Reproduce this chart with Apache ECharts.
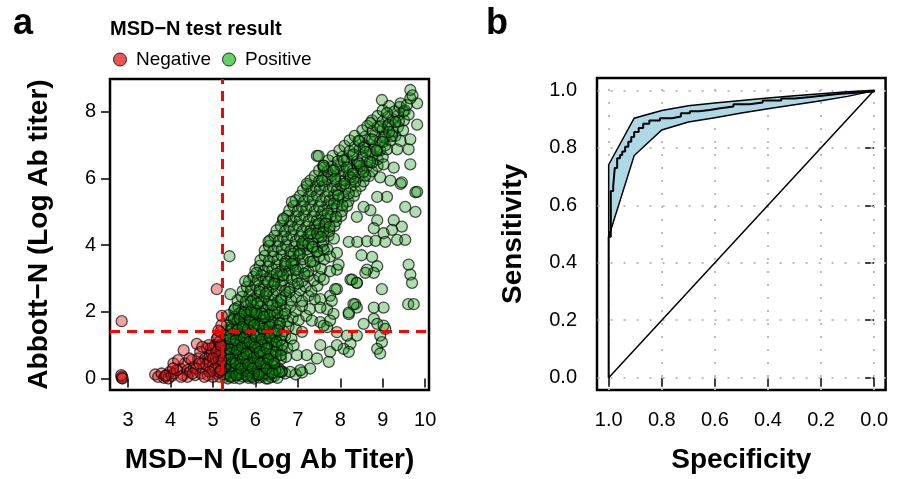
<!DOCTYPE html>
<html><head><meta charset="utf-8">
<script src="https://cdn.jsdelivr.net/npm/echarts@6/dist/echarts.min.js"></script>
<style>html,body{margin:0;padding:0;background:#fff}#c{width:920px;height:479px}</style>
</head><body><div id="c"></div>
<script>
// ---------- Panel a: MSD-N vs Abbott-N ----------
const negatives = [
[2.85,1.72],[2.85,0.02],[2.86,0.06],[2.84,0.1],[2.87,0.0],
[3.64,0.12],[3.71,0.05],[3.79,0.15],[3.85,0.02],[3.91,0.1],[3.95,0.0],[3.99,0.2],[4.03,0.08],[4.08,0.15],
[4.23,0.3],[4.3,0.1],[4.34,0.45],[4.4,0.25],[4.46,0.2],[4.5,0.55],[4.55,0.35],[4.58,0.1],[4.62,1.04],[4.65,0.6],
[4.7,0.8],[4.72,0.15],[4.75,0.45],[4.78,0.3],[4.82,0.6],[4.86,0.9],[4.88,0.1],[4.9,0.5],[4.93,0.7],[4.97,0.75],
[4.99,0.25],[5.01,0.4],[5.03,0.95],[5.05,1.0],[5.07,0.6],[5.09,1.19],[5.1,0.15],[5.12,0.85],[5.13,0.6],[5.14,0.35],
[5.15,1.1],[5.16,0.05],[5.17,1.39],[5.18,0.7],[5.19,0.45],[5.2,1.6],[5.09,2.68],[5.21,1.88],[5.13,1.44],[5.2,0.95],
[5.0,0.05],[4.85,0.4],[4.6,0.3],[4.4,0.05],[4.31,0.85],[4.07,0.45],[4.18,0.55],
[4.95,0.9],[5.05,0.3],[5.08,0.8],[5.15,0.2],[5.18,1.0],[5.12,1.25],[4.92,0.2],[4.8,0.05],[4.68,0.45],[4.52,0.15],
[4.45,0.6],[4.25,0.05],[4.15,0.25],[3.88,0.08],[4.06,0.3],[5.19,0.25],[5.2,0.55],[5.0,0.6],[4.9,1.0],[4.75,0.95]
];
const positives = [
// bottom strip
[5.28,0.05],[5.35,0.0],[5.42,0.08],[5.5,0.02],[5.57,0.1],[5.63,0.0],[5.7,0.06],[5.78,0.12],[5.84,0.02],[5.9,0.08],
[5.97,0.0],[6.04,0.1],[6.1,0.03],[6.18,0.07],[6.25,0.0],[6.31,0.12],[6.38,0.04],[6.45,0.08],[6.52,0.02],[6.3,0.0],
[5.95,0.15],[5.6,0.18],[6.7,0.15],[6.95,0.12],[7.1,0.18],
// core band
[5.3,0.3],[5.38,0.22],[5.45,0.38],[5.52,0.28],[5.6,0.35],[5.68,0.25],[5.75,0.4],[5.83,0.3],[5.9,0.22],[5.98,0.36],
[6.05,0.28],[6.13,0.4],[6.2,0.25],[6.28,0.33],[6.36,0.22],[6.44,0.38],[6.55,0.3],[6.62,0.22],
[5.27,0.55],[5.35,0.65],[5.43,0.5],[5.5,0.62],[5.58,0.7],[5.66,0.52],[5.74,0.66],[5.82,0.55],[5.9,0.7],[5.98,0.5],
[6.06,0.62],[6.14,0.7],[6.22,0.55],[6.3,0.65],[6.4,0.5],[6.5,0.68],[6.6,0.58],[6.72,0.65],
[5.28,0.85],[5.36,0.95],[5.44,0.8],[5.52,0.9],[5.6,1.0],[5.68,0.82],[5.76,0.93],[5.84,0.8],[5.92,1.0],[6.0,0.88],
[6.08,0.95],[6.16,0.82],[6.24,1.0],[6.32,0.9],[6.42,0.8],[6.52,0.95],[6.62,0.85],[6.75,0.92],
[5.3,1.15],[5.38,1.25],[5.46,1.1],[5.55,1.3],[5.63,1.18],[5.71,1.28],[5.8,1.12],[5.88,1.25],[5.96,1.15],[6.05,1.3],
[6.13,1.1],[6.22,1.22],[6.3,1.3],[6.38,1.12],[6.48,1.25],[6.58,1.15],[6.7,1.28],[6.85,1.2],
[5.35,1.45],[5.43,1.55],[5.52,1.4],[5.6,1.6],[5.68,1.48],[5.77,1.58],[5.85,1.42],[5.94,1.55],[6.02,1.45],[6.1,1.6],
[6.2,1.4],[6.28,1.52],[6.37,1.6],[6.46,1.45],[6.56,1.57],[6.66,1.42],[6.78,1.55],[6.95,1.48],[7.1,1.4],
[5.42,1.72],[5.5,1.85],[5.58,1.75],[5.67,1.9],[5.75,1.78],[5.84,1.88],[5.92,1.7],[6.0,1.82],[6.1,1.9],[6.18,1.75],
[6.27,1.85],[6.36,1.72],[6.45,1.9],[6.55,1.78],[6.65,1.85],[6.75,1.72],[6.88,1.82],[7.02,1.75],[7.2,1.88],
[5.5,2.05],[5.6,2.15],[5.68,2.0],[5.77,2.2],[5.86,2.08],[5.95,2.18],[6.03,2.02],[6.12,2.15],[6.21,2.05],[6.3,2.2],
[6.4,2.0],[6.5,2.12],[6.6,2.2],[6.7,2.05],[6.82,2.15],[6.95,2.02],[7.1,2.18],[7.28,2.08],
[5.58,2.35],[5.68,2.45],[5.77,2.3],[5.86,2.5],[5.95,2.38],[6.04,2.48],[6.13,2.32],[6.22,2.45],[6.32,2.35],[6.42,2.5],
[6.52,2.3],[6.62,2.42],[6.72,2.5],[6.84,2.35],[6.96,2.45],[7.1,2.32],[7.25,2.48],[7.4,2.38],
[5.7,2.62],[5.8,2.75],[5.9,2.65],[6.0,2.8],[6.1,2.68],[6.2,2.78],[6.3,2.62],[6.4,2.75],[6.5,2.65],[6.6,2.8],
[6.7,2.62],[6.8,2.72],[6.92,2.8],[7.05,2.65],[7.18,2.75],[7.32,2.62],[7.46,2.78],
[5.85,2.92],[5.95,3.05],[6.05,2.95],[6.15,3.1],[6.25,2.98],[6.35,3.08],[6.45,2.92],[6.55,3.05],[6.65,2.95],[6.75,3.1],
[6.86,2.98],[6.98,3.05],[7.1,2.92],[7.24,3.08],[7.38,2.95],[7.52,3.05],
[6.0,3.25],[6.1,3.38],[6.2,3.22],[6.3,3.35],[6.4,3.28],[6.5,3.4],[6.6,3.22],[6.7,3.35],[6.8,3.25],[6.9,3.4],
[7.0,3.28],[7.12,3.35],[7.25,3.22],[7.4,3.38],[7.55,3.3],
[6.12,3.55],[6.22,3.68],[6.32,3.52],[6.42,3.65],[6.52,3.58],[6.62,3.7],[6.72,3.52],[6.82,3.65],[6.92,3.55],[7.02,3.7],
[7.12,3.58],[7.24,3.68],[7.36,3.52],[7.5,3.65],[7.62,3.58],
[6.22,3.85],[6.32,3.98],[6.42,3.82],[6.52,3.95],[6.62,3.88],[6.72,4.0],[6.82,3.82],[6.92,3.95],[7.02,3.85],[7.12,4.0],
[7.22,3.88],[7.34,3.95],[7.46,3.82],[7.58,3.98],[7.7,3.88],
[6.35,4.15],[6.45,4.28],[6.55,4.12],[6.65,4.25],[6.75,4.18],[6.85,4.3],[6.95,4.12],[7.05,4.25],[7.15,4.15],[7.25,4.3],
[7.36,4.18],[7.48,4.25],[7.6,4.12],[7.72,4.28],[7.85,4.2],
[6.5,4.45],[6.6,4.58],[6.7,4.42],[6.8,4.55],[6.9,4.48],[7.0,4.6],[7.1,4.42],[7.2,4.55],[7.3,4.45],[7.4,4.6],
[7.5,4.48],[7.62,4.55],[7.74,4.42],[7.86,4.58],
[6.65,4.75],[6.75,4.88],[6.85,4.72],[6.95,4.85],[7.05,4.78],[7.15,4.9],[7.25,4.72],[7.35,4.85],[7.45,4.75],[7.55,4.9],
[7.65,4.78],[7.77,4.85],[7.9,4.72],[8.02,4.88],
[6.8,5.05],[6.9,5.18],[7.0,5.02],[7.1,5.15],[7.2,5.08],[7.3,5.2],[7.4,5.02],[7.5,5.15],[7.6,5.05],[7.7,5.2],
[7.8,5.08],[7.92,5.15],[8.04,5.02],[8.16,5.18],
[6.95,5.35],[7.05,5.48],[7.15,5.32],[7.25,5.45],[7.35,5.38],[7.45,5.5],[7.55,5.32],[7.65,5.45],[7.75,5.35],[7.85,5.5],
[7.95,5.38],[8.07,5.45],[8.19,5.32],[8.32,5.48],
[7.12,5.65],[7.22,5.78],[7.32,5.62],[7.42,5.75],[7.52,5.68],[7.62,5.8],[7.72,5.62],[7.82,5.75],[7.92,5.65],[8.02,5.8],
[8.12,5.68],[8.24,5.75],[8.36,5.62],[8.48,5.78],
[7.3,5.95],[7.4,6.08],[7.5,5.92],[7.6,6.05],[7.7,5.98],[7.8,6.1],[7.9,5.92],[8.0,6.05],[8.1,5.95],[8.2,6.1],
[8.3,5.98],[8.42,6.05],[8.55,5.92],[8.68,6.08],
[7.5,6.25],[7.6,6.38],[7.7,6.22],[7.8,6.35],[7.9,6.28],[8.0,6.4],[8.1,6.22],[8.2,6.35],[8.3,6.25],[8.4,6.4],
[8.5,6.28],[8.62,6.35],[8.75,6.22],[8.88,6.38],
[7.72,6.55],[7.82,6.68],[7.94,6.52],[8.05,6.65],[8.16,6.58],[8.28,6.7],[8.4,6.52],[8.52,6.65],[8.64,6.55],[8.76,6.7],
[8.88,6.58],[9.0,6.65],
[7.98,6.85],[8.1,6.98],[8.22,6.82],[8.34,6.95],[8.46,6.88],[8.58,7.0],[8.7,6.82],[8.82,6.95],[8.94,6.85],[9.06,7.0],
[8.22,7.15],[8.34,7.28],[8.46,7.12],[8.58,7.25],[8.7,7.18],[8.82,7.3],[8.94,7.12],[9.06,7.25],[9.18,7.15],[9.3,7.28],
[8.52,7.45],[8.64,7.58],[8.76,7.42],[8.88,7.55],[9.0,7.48],[9.12,7.6],[9.24,7.42],[9.36,7.55],[9.48,7.45],
[8.75,7.75],[8.88,7.88],[9.0,7.72],[9.12,7.85],[9.24,7.78],[9.36,7.9],[9.5,7.75],
[9.0,8.05],[9.15,8.18],[9.28,8.02],[9.4,8.15],[9.52,8.05],
[9.1,7.97],[9.49,8.02],[9.61,7.92],[9.42,8.26],[9.57,8.21],[9.81,8.26],[8.98,8.36],[9.65,8.41],[9.65,8.66],[9.7,8.5],
// upper scattered
[8.71,7.67],[8.94,7.57],[9.14,7.62],[9.38,7.72],[9.81,7.62],[8.43,7.13],[8.75,7.18],[9.02,7.23],[9.22,7.28],[9.42,7.13],
[9.65,7.18],[7.45,6.68],[7.61,6.33],[8.08,6.53],[8.31,6.73],[8.55,6.93],[8.87,6.83],[9.1,6.88],[9.34,6.88],[9.61,6.88],
[7.84,6.24],[8.16,6.33],[8.47,6.38],[8.75,6.48],[9.02,6.43],[9.26,6.33],[9.65,6.43],[7.21,5.84],[7.57,5.94],[7.88,5.99],
[8.24,6.04],[8.59,6.09],[8.94,6.04],[9.18,5.94],[9.42,5.84],[9.77,5.59],
[9.45,5.89],[9.81,5.6],[9.53,5.15],[9.77,5.0],[9.26,4.75],[9.45,4.56],[9.22,4.46],[9.02,4.36],[8.87,4.75],[8.71,5.05],
[9.1,5.45],[8.87,5.45],[8.55,5.15],[8.39,4.85],[8.79,4.51],
// right sparse cluster
[8.2,4.1],[8.4,4.1],[8.63,4.12],[8.83,4.13],[9.06,4.1],[9.34,4.16],[9.53,4.16],[8.5,3.7],[8.75,3.65],[8.87,3.37],
[8.79,3.17],[8.63,3.27],[8.24,2.97],[8.39,2.87],[8.98,2.68],[9.61,3.42],[9.65,3.12],[9.69,2.87],[9.6,2.23],[9.73,2.23],
[8.2,1.93],[8.35,2.23],[8.39,2.13],[8.79,2.13],[9.02,2.13],[8.79,1.79],[8.87,1.64],[9.02,1.59],[9.06,1.49],[8.94,1.29],
[8.98,1.09],[8.87,0.89],[8.94,0.75],[8.39,1.29],[8.24,1.04],[8.08,0.89],[8.2,0.8],[7.76,0.8],[7.92,1.0],[7.53,1.0],
[6.9,0.99],[6.98,0.7],[7.21,0.7],[7.45,0.6],[7.73,0.5],[7.29,0.3],[7.06,0.25],[6.82,0.2],[6.62,0.2],[6.47,0.25],
[7.61,3.86],[7.76,3.66],[7.92,3.27],[7.61,2.97],[7.92,2.68],[7.76,2.48],[7.53,2.38],[7.69,2.08],[7.92,3.77],[7.96,3.42],
[7.76,3.22],[7.88,2.68],[7.8,2.33],[7.53,2.13],[7.84,1.94],[7.53,1.69],[7.69,1.54],[8.2,1.98],[8.31,2.23],[8.28,2.97],
[8.39,2.87],[8.59,3.17],[7.33,1.74],[7.61,1.59],[7.76,1.74],[7.92,1.39],[8.16,1.29],[8.55,1.64],
// left edge outliers
[5.39,3.67],[6.31,4.11],[6.66,4.8],[6.86,5.3],[7.49,6.68],[7.61,6.39],[6.03,3.17],[5.76,2.92],[5.41,2.53],
// dense overlay
[5.33,0.15],[5.47,0.2],[5.62,0.12],[5.8,0.22],[5.93,0.05],[6.08,0.2],[6.22,0.15],[6.4,0.18],[5.32,0.45],[5.48,0.48],
[5.64,0.42],[5.8,0.5],[5.95,0.45],[6.1,0.52],[6.26,0.45],[6.42,0.55],[5.4,0.75],[5.56,0.78],[5.72,0.72],[5.88,0.8],
[6.04,0.75],[6.2,0.78],[6.36,0.72],[5.34,1.05],[5.5,1.02],[5.66,1.08],[5.82,1.02],[5.98,1.05],[6.14,1.0],[6.3,1.05],
[6.46,1.02],[5.45,1.35],[5.62,1.32],[5.78,1.38],[5.95,1.35],[6.12,1.32],[6.28,1.38],[6.45,1.35],[6.62,1.3],[5.55,1.65],
[5.72,1.62],[5.88,1.68],[6.05,1.65],[6.22,1.62],[6.4,1.68],[6.58,1.65],[5.62,1.95],[5.8,1.92],[5.98,1.98],[6.16,1.95],
[6.34,1.92],[6.52,1.98],[6.7,1.95],
[5.26,0.12],[5.31,0.38],[5.29,0.7],[5.27,1.0],[5.3,1.3],[5.33,1.6],[5.37,1.9],[5.42,0.05],[5.4,0.58],[5.38,0.88],
[5.41,1.18],[5.46,1.5],[5.49,1.78],[5.52,2.1],[5.55,0.1],[5.53,0.45],[5.57,0.85],[5.54,1.15],[5.58,1.45],[5.63,1.8],
[5.66,0.3],[5.7,0.6],[5.69,0.95],[5.73,1.22],[5.7,1.55],[5.74,1.98],[5.8,0.08],[5.83,0.42],[5.79,0.75],[5.86,1.1],
[5.82,1.48],[5.87,1.75],[5.9,2.02],[5.94,0.3],[5.96,0.62],[5.99,0.95],[6.01,1.25],[5.97,1.6],[6.02,1.95],[6.08,0.12],
[6.12,0.45],[6.1,0.8],[6.15,1.18],[6.18,1.5],[6.2,1.85],[6.26,0.3],[6.3,0.58],[6.27,0.9],[6.34,1.25],[6.33,1.55],
[6.4,0.15],[6.45,0.45],[6.48,0.8],[6.5,1.1],[6.52,1.45],[6.56,0.2],[6.6,0.7],[6.63,1.0],
[5.9,2.3],[6.1,2.6],[6.3,2.9],[6.5,3.15],[6.7,3.45],[6.9,3.75],[7.1,4.05],[7.3,4.35],[7.5,4.65],[7.7,4.95],
[6.05,2.25],[6.25,2.55],[6.45,2.85],[6.65,3.1],[6.85,3.45],[7.05,3.75],[7.25,4.05],[7.45,4.35],[7.65,4.65],[7.85,5.25],
[6.6,2.35],[6.8,2.6],[7.0,2.85],[7.15,3.15],[7.3,3.5],[7.45,3.8],[7.6,4.4],[7.95,5.5],[8.1,5.85],[8.3,6.15],
[8.45,6.45],[8.6,6.8],[6.4,2.2],[6.95,3.25],[7.35,3.95],[7.55,4.25],[7.75,4.55],[7.9,4.85],[8.05,5.2],[8.2,5.55],
[8.35,5.9],[8.55,6.2],[8.7,6.5],[8.85,6.85],[9.0,7.1],[9.15,7.4],[9.3,7.7]
];
const cutoffMSD = 5.22;
const cutoffAbbott = 1.41;
const xTicksA = [3,4,5,6,7,8,9,10];
const yTicksA = [0,2,4,6,8];

// ---------- Panel b: ROC ----------
const rocCurve = [
[1.0,0.0],[1.0,0.49],[0.992,0.65],[0.983,0.667],[0.977,0.73],[0.968,0.764],[0.957,0.775],[0.949,0.787],
[0.938,0.804],[0.926,0.821],[0.915,0.838],[0.904,0.855],[0.887,0.869],[0.87,0.884],[0.847,0.895],[0.807,0.903],
[0.762,0.909],[0.728,0.92],[0.694,0.927],[0.66,0.932],[0.62,0.938],[0.58,0.944],[0.53,0.952],[0.47,0.958],
[0.42,0.965],[0.35,0.972],[0.3,0.977],[0.24,0.983],[0.18,0.988],[0.127,0.992],[0.07,0.996],[0.0,1.0]
];
const ciUpper = [[1.0,0.741],[0.904,0.903],[0.8,0.93],[0.7,0.946],[0.6,0.956],[0.5,0.965],[0.4,0.973],[0.3,0.981],[0.2,0.988],[0.1,0.995],[0.0,1.0]];
const ciLower = [[1.0,0.49],[0.904,0.773],[0.8,0.862],[0.7,0.89],[0.6,0.905],[0.5,0.921],[0.4,0.936],[0.3,0.95],[0.2,0.964],[0.1,0.979],[0.03,0.993],[0.0,1.0]];
const chanceLine = [[1.0,0.0],[0.0,1.0]];
const ticksB = [0,0.2,0.4,0.6,0.8,1.0];

const FONT = '"Liberation Sans", Arial, Helvetica, sans-serif';
const chart = echarts.init(document.getElementById('c'), null, {renderer:'canvas'});

function axisCommon(ticks, margin, fmt){
  return {
    axisLine:{show:false},
    axisTick:{show:true, customValues:ticks, length:9, lineStyle:{color:'#000', width:1.5}},
    axisLabel:{customValues:ticks, fontSize:20, color:'#000', fontFamily:FONT, margin:margin, formatter:fmt},
    splitLine:{show:false},
    nameLocation:'middle',
    nameTextStyle:{fontSize:28, fontWeight:'bold', color:'#000', fontFamily:FONT}
  };
}

const option = {
  animation:false,
  textStyle:{fontFamily:FONT},
  grid:[
    {left:110, top:79, width:319, height:316, show:true, borderColor:'#000', borderWidth:2.5, backgroundColor:'rgba(0,0,0,0)'},
    {left:597, top:78, width:320, height:317, show:true, borderColor:'#000', borderWidth:2.5, backgroundColor:'rgba(0,0,0,0)'}
  ],
  xAxis:[
    Object.assign({type:'value', gridIndex:0, min:2.575, max:10.09, name:'MSD\u2212N (Log Ab Titer)', nameGap:56}, axisCommon(xTicksA, 20)),
    Object.assign({type:'value', gridIndex:1, min:-0.043, max:1.044, inverse:true, name:'Specificity', nameGap:56}, axisCommon(ticksB, 20, v=>v.toFixed(1)))
  ],
  yAxis:[
    Object.assign({type:'value', gridIndex:0, min:-0.345, max:8.99, name:'Abbott\u2212N (Log Ab titer)', nameGap:57}, axisCommon(yTicksA, 14)),
    Object.assign({type:'value', gridIndex:1, min:-0.043, max:1.043, name:'Sensitivity', nameGap:70}, axisCommon(ticksB, 20, v=>v.toFixed(1)))
  ],
  legend:{
    left:108, top:45, itemWidth:22, itemHeight:13, itemGap:11, icon:'circle',
    textStyle:{fontSize:19, color:'#000', fontFamily:FONT},
    data:[
      {name:'Negative', itemStyle:{color:'#e62a2a', borderColor:'#000', borderWidth:1}},
      {name:'Positive', itemStyle:{color:'#3cc43c', borderColor:'#000', borderWidth:1}}
    ]
  },
  graphic:[
    {type:'text', left:13, top:6, style:{text:'a', font:'bold 36px '+FONT, fill:'#000'}},
    {type:'text', left:486, top:6, style:{text:'b', font:'bold 36px '+FONT, fill:'#000'}},
    {type:'text', left:110, top:19, style:{text:'MSD\u2212N test result', font:'bold 20px '+FONT, fill:'#000'}}
  ],
  series:[
    {name:'Positive', type:'scatter', xAxisIndex:0, yAxisIndex:0, data:positives, symbolSize:11,
     itemStyle:{color:'rgba(10,150,10,0.4)', borderColor:'rgba(0,0,0,0.85)', borderWidth:1.3}, z:2},
    {name:'Negative', type:'scatter', xAxisIndex:0, yAxisIndex:0, data:negatives, symbolSize:11,
     itemStyle:{color:'rgba(222,20,20,0.5)', borderColor:'rgba(0,0,0,0.85)', borderWidth:1.3}, z:3,
     markLine:{silent:true, symbol:'none', label:{show:false}, animation:false, z:6,
       lineStyle:{color:'#ff0000', type:[10,7], width:3},
       data:[{xAxis:cutoffMSD},{yAxis:cutoffAbbott}]}},
    {name:'chance', type:'line', xAxisIndex:1, yAxisIndex:1, data:chanceLine, symbol:'none', z:1,
     lineStyle:{color:'#000', width:1.5},
     markLine:{silent:true, symbol:'none', label:{show:false}, animation:false, z:1,
       lineStyle:{color:'#bdbdbd', type:[2,11], width:2},
       data:ticksB.map(v=>({xAxis:v})).concat(ticksB.map(v=>({yAxis:v})))}},
    {name:'ci', type:'custom', xAxisIndex:1, yAxisIndex:1, data:[[0.5,0.95]], z:3,
     renderItem:function(params, api){
       const pts = ciUpper.map(p=>api.coord(p)).concat(ciLower.slice().reverse().map(p=>api.coord(p)));
       return {type:'polygon', shape:{points:pts}, style:{fill:'#add8e6', stroke:'#000', lineWidth:1.5}};
     }},
    {name:'roc', type:'line', xAxisIndex:1, yAxisIndex:1, data:rocCurve, step:'end', symbol:'none', z:4,
     lineStyle:{color:'#000', width:2}}
  ]
};
chart.setOption(option);
</script></body></html>
